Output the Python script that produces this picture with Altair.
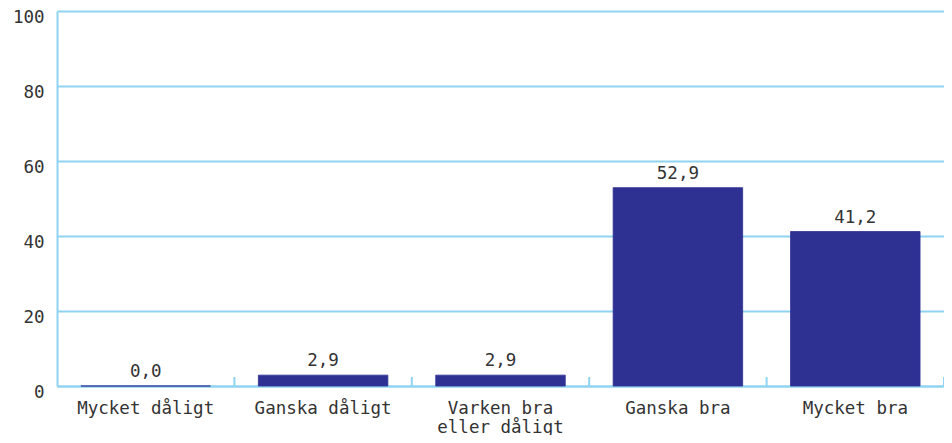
import altair as alt
import pandas as pd

categories = ["Mycket dåligt", "Ganska dåligt", "Varken bra\neller dåligt", "Ganska bra", "Mycket bra"]
values = [0.0, 2.9, 2.9, 52.9, 41.2]
y_ticks = [0, 20, 40, 60, 80, 100]

df = pd.DataFrame({"cat": categories, "val": values, "order": list(range(len(categories)))})

FONT = "DejaVu Sans Mono"
GRID = "#8fd4f0"
BAR = "#2e3192"
TXT = "#333333"
FS = 17.5

W = 887
PI = 0.27
xscale = alt.Scale(domain=categories, paddingInner=PI, paddingOuter=PI / 2)
half_gap = (W / len(categories)) * PI / 2

base = alt.Chart(df)

bars = base.mark_bar(color=BAR, stroke=BAR, strokeWidth=0.8).encode(
    x=alt.X("cat:N", scale=xscale, sort=categories, title=None,
            axis=alt.Axis(labelExpr="split(datum.label, '\\n')", labelAngle=0,
                          labelFont=FONT, labelFontSize=FS, labelColor=TXT,
                          labelPadding=13, labelLineHeight=19,
                          ticks=False, domainColor=GRID, domainWidth=2)),
    y=alt.Y("val:Q", scale=alt.Scale(domain=[0, 100]), title=None,
            axis=alt.Axis(values=y_ticks, labelFont=FONT, labelFontSize=FS, labelColor=TXT,
                          labelPadding=13, labelOffset=6, ticks=False, domainColor=GRID,
                          domainWidth=2, gridColor=GRID, gridWidth=2, grid=True)),
)

labels = base.transform_calculate(
    lab="replace(format(datum.val, '.1f'), '.', ',')"
).mark_text(font=FONT, fontSize=FS, color=TXT, baseline="bottom", dy=-5).encode(
    x=alt.X("cat:N", scale=xscale, sort=categories),
    y=alt.Y("val:Q"),
    text="lab:N",
)

sep = base.transform_filter("datum.order > 0").mark_rule(
    color=GRID, strokeWidth=2, xOffset=-half_gap
).encode(
    x=alt.X("cat:N", scale=xscale, sort=categories, bandPosition=0),
    y=alt.value(366),
    y2=alt.value(375),
)

sep_end = base.transform_filter("datum.order == 4").mark_rule(
    color=GRID, strokeWidth=2, xOffset=half_gap
).encode(
    x=alt.X("cat:N", scale=xscale, sort=categories, bandPosition=1),
    y=alt.value(366),
    y2=alt.value(375),
)

chart = alt.layer(bars, sep, sep_end, labels).properties(
    width=W, height=375,
    autosize=alt.AutoSizeParams(type="none"),
    padding={"left": 49, "top": 3, "right": 0, "bottom": 49},
).configure_view(stroke=None)

chart.save("out.html", embed_options={"renderer": "svg", "actions": False})
